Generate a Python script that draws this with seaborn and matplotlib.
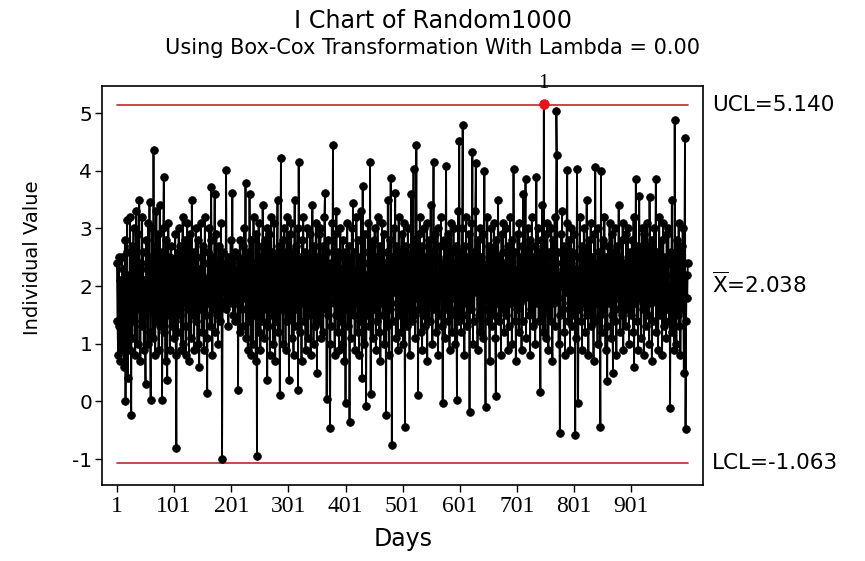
import numpy as np
import pandas as pd
import seaborn as sns
import matplotlib
matplotlib.use("Agg")
import matplotlib.pyplot as plt
import matplotlib.transforms as mtransforms

# values, ten days per line
block_001 = [2.4, 1.4, 0.8, 2.5, 1.3, 0.7, 2.1, 1.7, 0.9, 2.5,
             1.6, 2.3, 0.6, 1.9, 2.8, 0.0, 1.2, 2.6, 3.15, 0.4,
             1.8, 2.2, 0.9, 3.2, 1.5, -0.23, 2.7, 1.1, 2.0, 3.0,
             1.4, 2.6, 0.8, 1.9, 3.3, 2.2, 1.0, 2.9, 1.6, 3.5,
             2.0, 0.7, 2.4, 1.3, 3.2, 1.8, 2.6, 0.9, 2.1, 1.5,
             0.3, 2.8, 1.7, 2.3, 1.0, 3.1, 2.0, 3.46, 1.2, 0.03,
             2.5, 1.6, 3.0, 1.1, 4.37, 1.9, 2.7, 0.8, 2.2, 3.3,
             1.4, 2.9, 1.8, 0.9, 2.4, 3.4, 1.3, 2.0, 2.6, 0.03,
             1.7, 3.0, 3.89, 1.2, 2.3, 0.7, 2.8, 1.5, 0.38, 2.1,
             3.1, 1.6, 2.5, 0.9, 2.0, 2.7, 1.3, 1.9, 2.4, 1.1]
block_101 = [2.2, 1.4, 2.9, 0.8, -0.8, 1.8, 2.6, 1.2, 3.0, 2.0,
             1.5, 2.7, 0.9, 2.3, 1.7, 3.2, 1.0, 2.5, 1.9, 2.8,
             1.3, 0.8, 2.4, 3.1, 1.6, 2.1, 0.7, 2.9, 1.8, 2.3,
             1.1, 3.5, 2.0, 1.5, 2.6, 0.9, 2.2, 1.7, 3.0, 1.4,
             2.5, 1.0, 2.8, 1.9, 0.6, 2.3, 1.6, 3.1, 2.0, 1.2,
             2.7, 1.8, 0.9, 2.4, 3.2, 1.5, 2.1, 1.1, 0.15, 2.6,
             1.7, 3.0, 2.2, 1.3, 2.8, 3.72, 1.9, 0.8, 2.5, 1.6,
             2.3, 3.6, 1.2, 2.0, 2.9, 1.5, 2.4, 1.0, 2.7, 1.8,
             2.1, 1.4, 3.1, 2.0, -1.0, 1.7, 2.6, 2.2, 1.9, 2.4,
             1.6, 4.02, 2.1, 1.8, 2.5, 1.3, 2.3, 2.0, 1.7, 2.8]
block_201 = [1.9, 2.4, 3.62, 1.5, 2.2, 1.8, 2.6, 1.4, 2.1, 2.0,
             1.7, 2.5, 0.2, 2.3, 1.9, 2.8, 1.2, 2.4, 2.0, 1.6,
             2.7, 1.3, 2.2, 3.0, 1.8, 3.79, 1.1, 2.5, 1.9, 0.9,
             2.6, 1.4, 3.6, 2.1, 0.8, 2.8, 1.7, 2.3, 1.0, 3.2,
             1.5, 2.4, 1.9, 0.7, 2.9, -0.94, 2.2, 1.6, 3.1, 1.2,
             2.5, 0.9, 2.0, 2.7, 1.4, 3.4, 1.8, 2.3, 1.1, 2.8,
             1.6, 2.1, 3.0, 0.38, 2.4, 1.3, 2.9, 1.7, 0.8, 2.2,
             3.2, 1.5, 2.6, 1.0, 2.0, 3.1, 1.8, 0.7, 2.5, 1.4,
             2.3, 3.5, 1.2, 2.7, 1.9, 0.11, 2.4, 4.23, 1.6, 2.1,
             1.0, 2.8, 1.7, 3.0, 2.2, 0.9, 2.6, 1.4, 3.2, 1.8]
block_301 = [2.4, 0.37, 2.9, 1.5, 2.1, 3.1, 1.1, 2.6, 1.8, 0.8,
             2.3, 3.5, 1.3, 2.0, 2.7, 1.6, 3.0, 0.2, 4.16, 1.9,
             2.5, 1.2, 2.2, 0.7, 2.8, 1.7, 3.2, 2.0, 1.4, 2.6,
             0.9, 2.3, 1.8, 3.0, 1.1, 2.5, 2.0, 1.5, 2.9, 0.8,
             2.2, 1.6, 3.4, 2.4, 1.0, 2.7, 1.9, 1.3, 3.1, 2.1,
             0.5, 2.5, 1.7, 2.9, 1.4, 2.2, 3.0, 1.1, 2.4, 1.8,
             2.7, 1.2, 2.0, 3.2, 3.62, 1.6, 2.3, 0.05, 2.6, 1.5,
             2.8, 1.9, 1.0, -0.46, 2.4, 1.3, 3.1, 2.0, 4.44, 1.7,
             2.2, 0.8, 2.9, 1.5, 3.3, 2.1, 1.2, 2.6, 1.8, 0.9,
             2.5, 3.0, 1.4, 2.3, 1.0, 2.8, 1.9, 2.2, 0.7, 2.6]
block_401 = [-0.02, 2.4, 1.6, 3.1, 2.0, 1.3, 2.7, -0.35, 1.9, 2.5,
             1.1, 3.0, 2.2, 3.45, 1.5, 2.6, 0.9, 2.1, 1.7, 3.2,
             2.3, 1.2, 2.8, 1.8, 0.8, 2.5, 1.4, 3.3, 2.0, 0.4,
             3.73, 1.6, 2.4, 1.0, 2.9, 1.9, -0.08, 2.2, 1.5, 3.1,
             2.6, 1.3, 2.0, 4.16, 0.12, 2.7, 1.8, 2.3, 1.1, 2.8,
             1.6, 3.0, 2.1, 0.9, 2.5, 1.4, 3.2, 1.9, 2.4, 1.2,
             2.7, 0.7, 2.2, 1.7, 3.1, 2.0, 1.5, 2.9, 1.0, 2.4,
             1.8, -0.23, 2.6, 1.3, 3.5, 2.2, 0.8, 2.8, 1.6, 3.87,
             2.1, -0.75, 2.5, 1.4, 3.0, 1.9, 2.3, 3.61, 1.1, 2.7,
             1.7, 2.2, 0.9, 3.2, 2.0, 1.5, 2.6, 1.2, 2.9, 1.8]
block_501 = [2.4, 1.0, 3.1, 2.1, -0.44, 2.7, 1.6, 2.3, 1.3, 3.0,
             1.9, 2.5, 0.8, 2.2, 1.7, 3.6, 1.4, 2.6, 2.0, 4.04,
             1.5, 2.8, 1.1, 2.4, 4.44, 1.8, 2.1, 0.11, 2.9, 1.6,
             3.2, 2.3, 1.2, 2.7, 0.9, 2.0, 1.5, 3.0, 2.2, 1.3,
             2.5, 1.8, 3.1, 0.7, 2.4, 1.9, 2.8, 1.4, 2.1, 3.4,
             1.7, 2.6, 1.0, 2.3, 4.16, 1.6, 2.0, 2.9, 1.2, 2.5,
             1.8, 3.0, 0.8, 2.2, 1.5, 2.7, 1.9, 3.2, 1.3, 2.4,
             -0.03, 2.1, 1.7, 2.8, 1.1, 2.5, 4.08, 1.6, 2.0, 1.4,
             2.9, 1.9, 0.9, 2.3, 3.1, 1.5, 2.6, 1.2, 2.2, 3.0,
             1.8, 2.4, 1.0, 2.7, 1.6, 0.03, 2.1, 3.3, 1.4, 4.51]
block_601 = [1.9, 2.6, 1.2, 2.3, 3.0, 4.80, 1.5, 2.1, 0.8, 2.7,
             1.7, 3.2, 2.0, 1.3, 2.5, 1.8, 2.9, -0.19, 2.4, 1.6,
             3.1, 2.2, 4.33, 1.0, 2.6, 1.4, 2.0, 3.3, 4.13, 1.9,
             2.3, 0.9, 2.8, 1.5, 2.1, 3.0, 1.2, 2.5, 1.7, 2.4,
             1.1, 2.9, 2.0, 4.0, 1.6, -0.09, 2.3, 1.8, 3.2, 2.1,
             1.4, 2.7, 0.7, 2.4, 1.9, 3.0, 1.3, 2.2, 2.6, 1.5,
             3.1, 2.0, 1.1, 0.1, 2.8, 1.7, 2.3, 3.5, 1.4, 2.5,
             1.8, 2.2, 0.8, 2.9, 1.6, 2.6, 3.1, 1.2, 2.0, 2.4,
             1.5, 3.0, 1.9, 2.3, 0.9, 2.7, 1.3, 2.1, 3.2, 1.7,
             2.5, 1.0, 2.8, 1.8, 4.04, 2.2, 1.4, 2.6, 0.7, 2.0]
block_701 = [1.6, 2.9, 2.3, 1.2, 3.1, 2.0, 1.7, 2.5, 0.9, 2.7,
             1.4, 3.6, 2.1, 1.8, 2.4, 3.85, 1.1, 2.6, 1.9, 3.0,
             2.2, 1.5, 2.8, 0.8, 2.3, 1.6, 3.2, 2.0, 1.3, 2.5,
             1.9, 2.7, 1.0, 2.4, 3.9, 1.7, 2.2, 3.0, 1.4, 2.6,
             2.1, 0.17, 2.8, 1.5, 3.4, 2.0, 1.2, 5.16, 1.8, 2.4,
             1.1, 2.9, 1.6, 3.1, 2.3, 0.9, 2.6, 1.9, 2.2, 1.4,
             3.0, 2.5, 0.7, 2.8, 1.7, 2.1, 3.2, 1.3, 2.4, 5.04,
             4.27, 1.8, 2.6, 1.0, 2.2, -0.55, 1.5, 2.9, 2.0, 3.3,
             1.6, 2.3, 1.2, 2.7, 0.8, 2.5, 1.9, 3.1, 4.02, 1.4,
             2.1, 2.8, 1.7, 0.9, 2.4, 3.0, 1.3, 2.6, 2.0, 1.5]
block_801 = [2.9, 1.8, -0.59, 2.3, 1.1, 4.04, 2.5, -0.02, 2.2, 1.6,
             3.2, 2.0, 1.4, 2.7, 0.9, 2.4, 1.7, 3.0, 2.1, 1.2,
             2.6, 1.9, 3.5, 1.5, 2.3, 0.8, 2.8, 1.6, 2.0, 3.1,
             1.3, 2.5, 1.8, 2.2, 0.7, 2.9, 1.4, 4.07, 2.1, 1.7,
             2.4, 1.0, 3.0, 1.9, 2.6, 1.5, -0.44, 4.0, 2.3, 1.2,
             2.8, 1.6, 2.1, 3.2, 1.8, 0.9, 2.5, 1.3, 0.36, 2.7,
             2.0, 1.7, 3.1, 2.4, 1.1, 2.2, 2.9, 1.5, 0.5, 2.6,
             1.9, 3.0, 1.4, 2.3, 0.8, 2.7, 1.8, 2.1, 3.4, 1.6,
             2.5, 1.2, 2.0, 2.8, 1.5, 3.1, 0.9, 2.4, 1.7, 2.2,
             1.3, 2.9, 2.0, 1.6, 3.0, 2.3, 1.0, 2.6, 1.8, 2.4]
block_901 = [1.5, 2.8, 2.1, 1.2, 3.2, 0.59, 2.5, 1.7, 3.85, 2.0,
             1.4, 2.7, 0.9, 2.3, 3.57, 1.8, 2.6, 1.1, 2.2, 3.0,
             1.6, 2.4, 0.8, 2.9, 1.9, 2.1, 1.3, 3.1, 2.0, 1.5,
             2.7, 1.0, 3.55, 2.3, 1.7, 2.5, 0.7, 2.8, 1.4, 2.2,
             3.0, 1.8, 2.4, 3.85, 1.2, 2.6, 1.9, 0.9, 2.1, 3.2,
             1.5, 2.3, 1.7, 2.8, 0.8, 2.0, 3.1, 1.3, 2.5, 1.9,
             2.2, 1.1, 2.9, 1.6, 2.4, 3.0, 1.4, 2.0, -0.11, 2.6,
             1.8, 3.5, 1.2, 2.5, 2.1, 0.9, 4.89, 1.7, 2.3, 1.0,
             2.8, 1.5, 2.2, 3.1, 1.3, 2.6, 0.8, 2.0, 2.7, 1.6,
             3.0, 1.9, 0.5, 2.4, 4.57, -0.48, 1.4, 2.2, 1.8, 2.4]

ucl = 5.140
center = 2.038
lcl = -1.063
flag_day = 748
flag_label = "1"
xtick_days = [1, 101, 201, 301, 401, 501, 601, 701, 801, 901]

values = (block_001 + block_101 + block_201 + block_301 + block_401 +
          block_501 + block_601 + block_701 + block_801 + block_901)
df = pd.DataFrame({"Days": np.arange(1, len(values) + 1), "Value": values})

sns.set_style("ticks")
plt.rcParams["font.family"] = ["DejaVu Sans"]
plt.rcParams["axes.unicode_minus"] = False
plt.rcParams["text.color"] = "black"
plt.rcParams["axes.labelcolor"] = "black"
plt.rcParams["xtick.color"] = "black"
plt.rcParams["ytick.color"] = "black"

fig = plt.figure(figsize=(8.65, 5.61), dpi=100)
ax = fig.add_axes([0.118, 0.1355, 0.695, 0.711])

red = "#c0262a"
span = ((1 + 25) / 1052, (1000 + 25) / 1052)
ax.axhline(ucl, xmin=span[0], xmax=span[1], color=red, lw=1.2, zorder=1)
ax.axhline(lcl, xmin=span[0], xmax=span[1], color=red, lw=1.2, zorder=1)

sns.lineplot(data=df, x="Days", y="Value", estimator=None, color="black",
             linewidth=1.3, marker="o", markersize=5.5, markeredgecolor="black",
             markeredgewidth=0.6, ax=ax, zorder=3)

flag = df[df["Days"] == flag_day]
sns.scatterplot(data=flag, x="Days", y="Value", color="#e8141c", s=48,
                marker="o", edgecolor="#e8141c", ax=ax, zorder=5)
ax.annotate(flag_label, (flag_day, flag["Value"].iloc[0]), xytext=(0, 15),
            textcoords="offset points", ha="center", va="center",
            fontsize=15, family="Liberation Serif", annotation_clip=False)

ax.set_xlim(-25, 1027)
ax.set_ylim(-1.45, 5.47)
ax.set_xticks(xtick_days)
ax.set_xticklabels([str(d) for d in xtick_days], family="Liberation Serif", fontsize=17)
ax.set_yticks([-1, 0, 1, 2, 3, 4, 5])
ax.tick_params(axis="y", labelsize=14.5, length=5, width=1, pad=2)
ax.tick_params(axis="x", length=5, width=1, pad=3)
for s in ax.spines.values():
    s.set_linewidth(1.2)
    s.set_color("black")

ax.set_xlabel("Days", fontsize=17, labelpad=7)
ax.set_ylabel("")
fig.text(0.037, 0.54, "Individual Value", rotation=90, ha="center", va="center", fontsize=14)

trans = mtransforms.blended_transform_factory(ax.transAxes, ax.transData)
ax.text(1.015, ucl, "UCL=5.140", transform=trans, ha="left", va="center", fontsize=15.5)
ax.text(1.015, center, r"$\overline{\mathrm{X}}$=2.038", transform=trans, ha="left", va="center", fontsize=15.5)
ax.text(1.015, lcl, "LCL=-1.063", transform=trans, ha="left", va="center", fontsize=15.5)

fig.text(0.5, 0.962, "I Chart of Random1000", ha="center", va="center", fontsize=17.2)
fig.text(0.5, 0.914, "Using Box-Cox Transformation With Lambda = 0.00", ha="center", va="center", fontsize=15)

fig.savefig("out.png", dpi=100)
